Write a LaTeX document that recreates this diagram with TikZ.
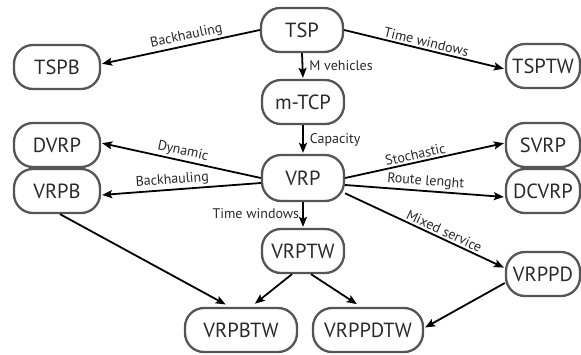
\documentclass[tikz,border=0pt]{standalone}
\usepackage{fontspec}
\setmainfont{PT Sans}
\usetikzlibrary{arrows.meta}
\definecolor{boxline}{HTML}{555555}
\definecolor{txt}{HTML}{2A2A2A}
\tikzset{
  prob/.style={draw=boxline, line width=2.3pt, rounded corners=19pt, fill=white,
    minimum height=44pt, inner sep=0pt, text=txt, font=\fontsize{20.5}{24}\selectfont},
  link/.style={line width=1.8pt, -{Stealth[length=10pt,width=8pt,inset=2pt]}, shorten >=1pt},
  lab/.style={text=txt, font=\fontsize{14}{16}\selectfont, inner sep=2pt}
}
\begin{document}
\begin{tikzpicture}[x=1pt,y=-1pt]
\useasboundingbox (0,0) rectangle (581,354);
\node[prob, minimum width=82pt] (TSP) at (302,30) {TSP};
\node[prob, minimum width=86pt] (TSPB) at (57,67) {TSPB};
\node[prob, minimum width=74pt] (TSPTW) at (543,66) {TSPTW};
\node[prob, minimum width=82pt] (MTCP) at (303,102) {m-TCP};
\node[prob, minimum width=82pt, minimum height=46pt] (VRP) at (303,178) {VRP};
\node[prob, minimum width=86pt] (DVRP) at (57,145) {DVRP};
\node[prob, minimum width=86pt] (VRPB) at (57,191) {VRPB};
\node[prob, minimum width=74pt] (SVRP) at (543,145) {SVRP};
\node[prob, minimum width=74pt] (DCVRP) at (543,191) {DCVRP};
\node[prob, minimum width=82pt] (VRPTW) at (303,251) {VRPTW};
\node[prob, minimum width=74pt] (VRPPD) at (543,274) {VRPPD};
\node[prob, minimum width=112pt] (VRPBTW) at (241,330) {VRPBTW};
\node[prob, minimum width=110pt] (VRPPDTW) at (368,330) {VRPPDTW};

\draw[link] (TSP.west) -- node[lab, sloped, above, pos=0.45] {Backhauling} ([yshift=3pt]TSPB.east);
\draw[link] (TSP.east) -- node[lab, sloped, above, pos=0.5] {Time windows} ([yshift=-3pt]TSPTW.west);
\draw[link] (TSP.south) -- node[lab, right, xshift=4pt] {M vehicles} (MTCP.north);
\draw[link] (MTCP.south) -- node[lab, right, xshift=4pt] {Capacity} (VRP.north);
\draw[link] (VRP.west) -- node[lab, sloped, above, pos=0.5] {Dynamic} ([yshift=2pt]DVRP.east);
\draw[link] ([yshift=-5pt]VRP.west) -- node[lab, sloped, above, pos=0.55] {Backhauling} ([yshift=-4pt]VRPB.east);
\draw[link] (VRP.east) -- node[lab, sloped, above, pos=0.45] {Stochastic} ([yshift=2pt]SVRP.west);
\draw[link] ([yshift=-7pt]VRP.east) -- node[lab, sloped, above, pos=0.5] {Route lenght} ([yshift=-6pt]DCVRP.west);
\draw[link] (VRP.-20) -- node[lab, sloped, above, pos=0.6] {Mixed service} ([yshift=6pt]VRPPD.west);
\draw[link] (VRP.south) -- node[lab, left, xshift=-1pt, pos=0.45] {Time windows} (VRPTW.north);
\draw[link, shorten >=5pt] ([xshift=3pt]VRPB.south) -- ([xshift=-11pt]VRPBTW.north);
\draw[link, shorten >=5pt] ([xshift=-11pt]VRPTW.south) -- ([xshift=10pt]VRPBTW.north);
\draw[link, shorten >=5pt] ([xshift=8pt]VRPTW.south) -- ([xshift=-7pt]VRPPDTW.north);
\draw[link] ([yshift=-9pt]VRPPD.west) -- ([yshift=2pt]VRPPDTW.east);
\end{tikzpicture}
\end{document}
